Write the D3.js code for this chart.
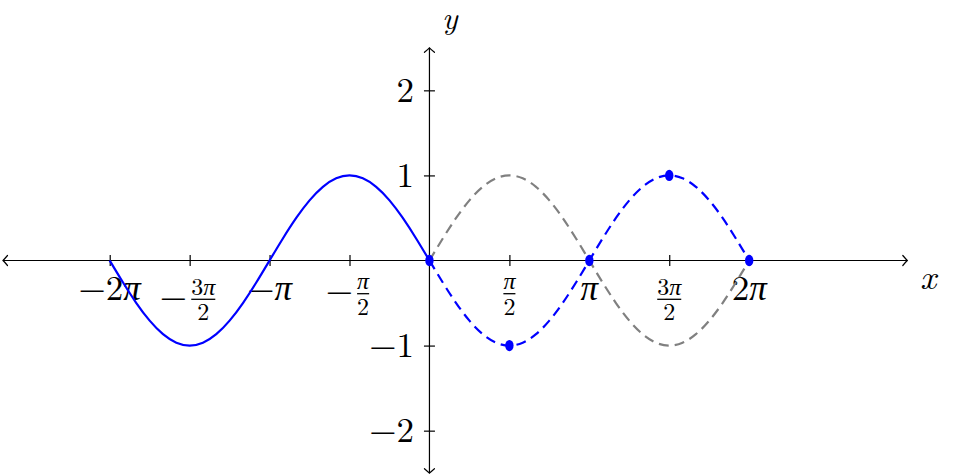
<!DOCTYPE html>
<html>
<head>
<meta charset="utf-8">
<script src="https://cdn.jsdelivr.net/npm/d3@7"></script>
<style>
  html, body { margin: 0; padding: 0; background: #fff; }
  svg { display: block; }
</style>
</head>
<body>
<svg id="chart" width="954" height="475"></svg>
<script>
// ---- data ----
const xTicks    = [-6.283, -4.712, -3.142, -1.571, 1.571, 3.142, 4.712, 6.283];
const xTickSign = ["−", "−", "−", "−", "", "", "", ""];
const xTickNum  = ["2π", "3π", "π", "π", "π", "π", "3π", "2π"];
const xTickDen  = ["", "2", "", "2", "2", "", "2", ""];
const yTicks      = [-2, -1, 1, 2];
const yTickLabels = ["−2", "−1", "1", "2"];

const leftX  = [-6.283, -6.021, -5.760, -5.498, -5.236, -4.974, -4.712, -4.451, -4.189, -3.927, -3.665, -3.403, -3.142,
                -2.880, -2.618, -2.356, -2.094, -1.833, -1.571, -1.309, -1.047, -0.785, -0.524, -0.262, 0];
const solidY = [0, -0.259, -0.5, -0.707, -0.866, -0.966, -1, -0.966, -0.866, -0.707, -0.5, -0.259, 0,
                0.259, 0.5, 0.707, 0.866, 0.966, 1, 0.966, 0.866, 0.707, 0.5, 0.259, 0];
const rightX = [0, 0.262, 0.524, 0.785, 1.047, 1.309, 1.571, 1.833, 2.094, 2.356, 2.618, 2.880, 3.142,
                3.403, 3.665, 3.927, 4.189, 4.451, 4.712, 4.974, 5.236, 5.498, 5.760, 6.021, 6.283];
const grayY  = [0, 0.259, 0.5, 0.707, 0.866, 0.966, 1, 0.966, 0.866, 0.707, 0.5, 0.259, 0,
                -0.259, -0.5, -0.707, -0.866, -0.966, -1, -0.966, -0.866, -0.707, -0.5, -0.259, 0];
const blueDashY = [0, -0.259, -0.5, -0.707, -0.866, -0.966, -1, -0.966, -0.866, -0.707, -0.5, -0.259, 0,
                0.259, 0.5, 0.707, 0.866, 0.966, 1, 0.966, 0.866, 0.707, 0.5, 0.259, 0];
const dotX = [0, 1.571, 3.142, 4.712, 6.283];
const dotY = [0, -1, 0, 1, 0];

// ---- setup ----
const FONT = "'Latin Modern Roman', 'CMU Serif', 'Liberation Serif', serif";
const svg = d3.select("#chart").attr("font-family", FONT);
const x = d3.scaleLinear().domain([-8.38, 9.39]).range([3, 907.3]);
const y = d3.scaleLinear().domain([-2.5, 2.5]).range([473.2, 47.8]);
const x0 = x(0), y0 = y(0);

const BIG = 35, SMALL = 24;

// ---- axes (tick marks via d3 axes) ----
const xAxis = d3.axisBottom(x).tickValues(xTicks).tickSize(11).tickSizeOuter(0).tickFormat("");
const gx = svg.append("g").attr("transform", `translate(0,${y0 - 5.5})`).call(xAxis);
gx.select(".domain").remove();
gx.selectAll(".tick line").attr("stroke", "#000").attr("stroke-width", 1.2);

const yAxis = d3.axisLeft(y).tickValues(yTicks).tickSize(11).tickSizeOuter(0).tickFormat("");
const gy = svg.append("g").attr("transform", `translate(${x0 + 5.5},0)`).call(yAxis);
gy.select(".domain").remove();
gy.selectAll(".tick line").attr("stroke", "#000").attr("stroke-width", 1.2);

svg.append("line").attr("x1", x.range()[0]).attr("x2", x.range()[1]).attr("y1", y0).attr("y2", y0)
  .attr("stroke", "#000").attr("stroke-width", 1.2);
svg.append("line").attr("x1", x0).attr("x2", x0).attr("y1", y.range()[0]).attr("y2", y.range()[1])
  .attr("stroke", "#000").attr("stroke-width", 1.2);

function arrow(px, py, angleDeg) {
  svg.append("path")
    .attr("d", "M -4.5 -5 Q -1.2 -1.2 0 0 Q -1.2 1.2 -4.5 5")
    .attr("transform", `translate(${px},${py}) rotate(${angleDeg})`)
    .attr("fill", "none").attr("stroke", "#000").attr("stroke-width", 1.2)
    .attr("stroke-linecap", "round");
}
arrow(x.range()[1], y0, 0);
arrow(x.range()[0], y0, 180);
arrow(x0, y.range()[1], -90);
arrow(x0, y.range()[0], 90);

// measure a (math) string width at a font size
function measure(str, size) {
  const t = svg.append("text").attr("font-size", size);
  for (const ch of str) {
    const s = t.append("tspan").text(ch);
    if (/[πa-zA-Z]/.test(ch)) s.attr("font-style", "italic");
  }
  const w = t.node().getComputedTextLength();
  t.remove();
  return w;
}
// append math chars as tspans into a text element; first one gets absolute x/y
function addMath(textSel, str, px, py, size) {
  let first = true;
  for (const ch of str) {
    const s = textSel.append("tspan").text(ch).attr("font-size", size);
    if (first) { s.attr("x", px).attr("y", py); first = false; }
    if (/[πa-zA-Z]/.test(ch)) s.attr("font-style", "italic");
  }
}

// ---- x tick labels (one text element per label) ----
const PAD = 4.2; // null delimiter space around fractions
xTicks.forEach((t, i) => {
  const isFrac = xTickDen[i] !== "";
  const tallNum = xTickNum[i].length > 1;
  const barY = tallNum ? 299.3 : 293.7;
  const signW = xTickSign[i] ? measure(xTickSign[i], BIG) : 0;
  let total, fracW = 0;
  if (!isFrac) {
    total = signW + measure(xTickNum[i], BIG);
  } else {
    fracW = Math.max(measure(xTickNum[i], SMALL), measure(xTickDen[i], SMALL));
    total = signW + PAD + fracW + PAD;
  }
  const left = x(t) - total / 2;
  const txt = svg.append("text").attr("class", "xlab");
  if (xTickSign[i]) {
    txt.append("tspan").text(xTickSign[i]).attr("font-size", BIG)
      .attr("x", left).attr("y", isFrac ? barY + 8.75 : 299.5);
  }
  if (!isFrac) {
    addMath(txt, xTickNum[i], left + signW, 300, BIG);
  } else {
    const fx = left + signW + PAD;
    const nW = measure(xTickNum[i], SMALL), dW = measure(xTickDen[i], SMALL);
    addMath(txt, xTickNum[i], fx + (fracW - nW) / 2, tallNum ? 294.5 : 288.5, SMALL);
    addMath(txt, xTickDen[i], fx + (fracW - dW) / 2, tallNum ? 320 : 315, SMALL);
    svg.append("line").attr("x1", fx).attr("x2", fx + fracW).attr("y1", barY).attr("y2", barY)
      .attr("stroke", "#000").attr("stroke-width", 1.3);
  }
});

// ---- y tick labels ----
svg.selectAll(".ylab").data(yTicks).enter().append("text")
  .attr("class", "ylab")
  .attr("x", 414).attr("y", d => y(d) + 11.3)
  .attr("text-anchor", "end")
  .attr("font-size", BIG)
  .text((d, i) => yTickLabels[i]);

// axis titles
svg.append("text").attr("x", 442).attr("y", 28.5).attr("font-size", 32).attr("font-style", "italic").text("y");
svg.append("text").attr("x", 920).attr("y", 289).attr("font-size", BIG).attr("font-style", "italic").text("x");

// ---- curves ----
const line = d3.line().x(d => x(d[0])).y(d => y(d[1])).curve(d3.curveNatural);

svg.append("path").datum(rightX.map((v, i) => [v, grayY[i]]))
  .attr("d", line).attr("fill", "none").attr("stroke", "#808080")
  .attr("stroke-width", 2.2).attr("stroke-dasharray", "10 6");

svg.append("path").datum(rightX.map((v, i) => [v, blueDashY[i]]))
  .attr("d", line).attr("fill", "none").attr("stroke", "#0000ff")
  .attr("stroke-width", 2.2).attr("stroke-dasharray", "10 6");

svg.append("path").datum(leftX.map((v, i) => [v, solidY[i]]))
  .attr("d", line).attr("fill", "none").attr("stroke", "#0000ff")
  .attr("stroke-width", 2.2);

svg.selectAll(".dot").data(dotX).enter().append("ellipse")
  .attr("class", "dot")
  .attr("cx", d => x(d)).attr("cy", (d, i) => y(dotY[i]))
  .attr("rx", 4.2).attr("ry", 5.7)
  .attr("fill", "#0000ff");
</script>
</body>
</html>
